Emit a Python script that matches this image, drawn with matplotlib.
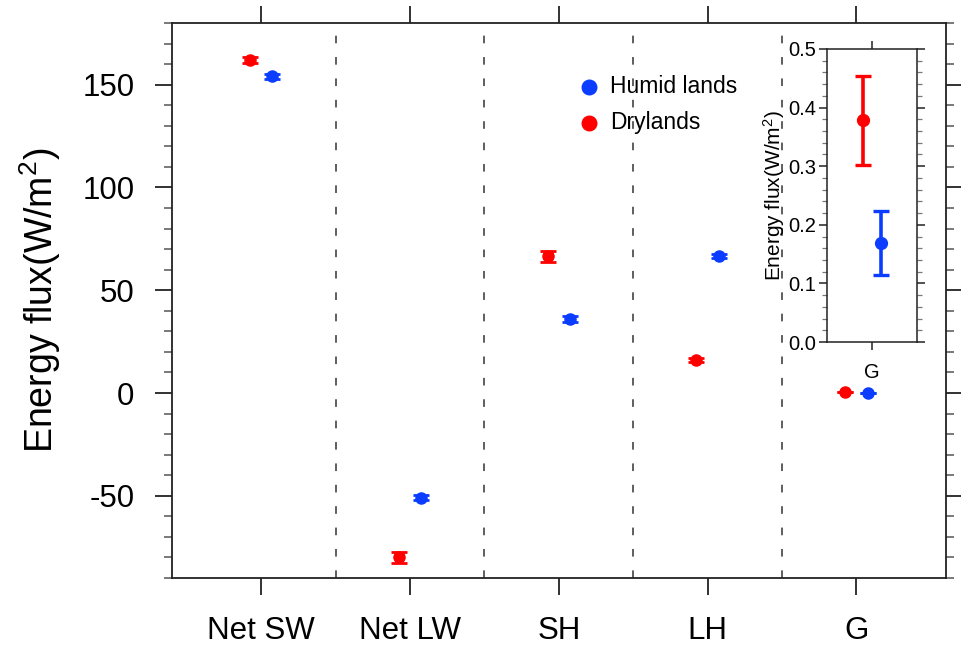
import matplotlib
matplotlib.use("Agg")
import matplotlib.pyplot as plt
from matplotlib.ticker import MultipleLocator
import numpy as np

plt.rcParams['font.family'] = ['Liberation Sans', 'DejaVu Sans']
plt.rcParams['mathtext.fontset'] = 'custom'
plt.rcParams['mathtext.rm'] = 'Liberation Sans'
plt.rcParams['mathtext.it'] = 'Liberation Sans'
plt.rcParams['axes.unicode_minus'] = False

# ---- data ----
categories = ['Net SW', 'Net LW', 'SH', 'LH', 'G']
dry = [162.0, -80.0, 66.5, 16.0, 0.378]
dry_err = [1.3, 2.7, 2.7, 1.0, 0.076]
humid = [154.0, -51.0, 36.0, 66.5, 0.169]
humid_err = [1.2, 1.2, 1.7, 1.0, 0.055]
series_labels = ['Humid lands', 'Drylands']
main_yticks = [-50, 0, 50, 100, 150]
inset_yticks = [0.0, 0.1, 0.2, 0.3, 0.4, 0.5]

RED = '#ff0000'
BLUE = '#0a3dff'

fig = plt.figure(figsize=(9.61, 6.47), dpi=100)
ax = fig.add_axes([0.179, 0.1066, 0.805, 0.8579])

x = np.arange(1, len(categories) + 1)
off = 0.075
ax.errorbar(x - off, dry, yerr=dry_err, fmt='o', color=RED, ms=8, capsize=6,
            capthick=2, elinewidth=2, zorder=3)
ax.errorbar(x + off, humid, yerr=humid_err, fmt='o', color=BLUE, ms=8, capsize=6,
            capthick=2, elinewidth=2, zorder=3)

for b in np.arange(1.5, len(categories), 1.0):
    ax.axvline(b, color='#333333', lw=1.1, ls=(0, (5, 9)), zorder=1)

ax.set_xlim(0.4, len(categories) + 0.6)
ax.set_ylim(-90, 180)
ax.set_xticks(x)
ax.set_xticklabels(categories)
ax.set_yticks(main_yticks)
ax.set_yticklabels([str(v) for v in main_yticks])
ax.yaxis.set_minor_locator(MultipleLocator(10))
ax.tick_params(axis='both', which='major', direction='out', length=12, width=1.3,
               labelsize=22.5, pad=15, top=True, right=True, colors='#222222',
               labelcolor='black')
ax.tick_params(axis='y', which='minor', direction='out', length=6, width=1.1,
               left=True, right=True, colors='#555555')
for s in ax.spines.values():
    s.set_linewidth(1.3)
    s.set_color('#222222')
ax.set_ylabel('Energy flux(W/m$^2$)', fontsize=27, labelpad=14)

# legend
h1 = ax.scatter([], [], s=110, color=BLUE, label=series_labels[0])
h2 = ax.scatter([], [], s=110, color=RED, label=series_labels[1])
ax.legend(handles=[h1, h2], loc='upper left', bbox_to_anchor=(0.51, 0.922),
          frameon=False, fontsize=16.5, handletextpad=0.3, labelspacing=0.55,
          borderaxespad=0, handlelength=1.2)

# ---- inset for G ----
ins = fig.add_axes([0.8606, 0.4714, 0.0937, 0.4529])
ins.set_facecolor('white')
ins.errorbar([-0.1], [dry[4]], yerr=[dry_err[4]], fmt='o', color=RED, ms=8.5,
             capsize=6, capthick=2.4, elinewidth=2.6)
ins.errorbar([0.1], [humid[4]], yerr=[humid_err[4]], fmt='o', color=BLUE, ms=8.5,
             capsize=6, capthick=2.4, elinewidth=2.6)
ins.set_xlim(-0.5, 0.5)
ins.set_ylim(0, 0.5)
ins.set_xticks([0])
ins.set_xticklabels([categories[4]])
ins.set_yticks(inset_yticks)
ins.set_yticklabels(['%.1f' % v for v in inset_yticks])
ins.yaxis.set_minor_locator(MultipleLocator(0.02))
ins.tick_params(axis='both', which='major', direction='out', length=6, width=1.1,
                labelsize=14.5, pad=2, top=True, right=True, colors='#222222',
                labelcolor='black')
ins.tick_params(axis='x', which='major', pad=9)
ins.tick_params(axis='y', which='minor', direction='out', length=3.5, width=0.9,
                left=True, right=True, colors='#777777')
for s in ins.spines.values():
    s.set_linewidth(1.1)
    s.set_color('#222222')
ins.set_ylabel('Energy flux(W/m$^2$)', fontsize=15, labelpad=1)

fig.savefig('out.png', dpi=100)
